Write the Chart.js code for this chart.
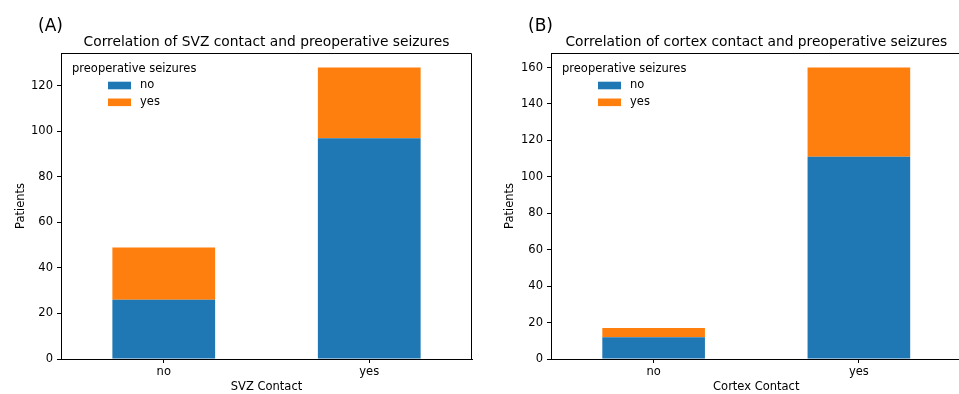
<!DOCTYPE html>
<html>
<head>
<meta charset="utf-8">
<script src="https://cdn.jsdelivr.net/npm/chart.js@4"></script>
<style>
  body { margin: 0; width: 959px; height: 394px; overflow: hidden; position: relative; background: #fff; font-family: "DejaVu Sans", sans-serif; }
  .box { position: absolute; top: 0; height: 394px; }
  .tag { position: absolute; top: 15px; font-size: 17px; line-height: 20px; color: #000; }
</style>
</head>
<body>
<div class="box" style="left:0; width:480px;"><canvas id="svzChart"></canvas></div>
<div class="box" style="left:480px; width:490px;"><canvas id="cortexChart"></canvas></div>
<div class="tag" style="left:38px;">(A)</div>
<div class="tag" style="left:528px;">(B)</div>
<script>
const contactLabels = ['no', 'yes'];
const seizureLabels = ['no', 'yes'];
const svzNoSeizure = [26, 97];
const svzSeizure = [23, 31];
const cortexNoSeizure = [12, 111];
const cortexSeizure = [5, 49];

const blue = '#1f77b4';
const orange = '#ff7f0e';
const font = "'DejaVu Sans', sans-serif";
const small = 11.5;

// title centred over the plot area, legend inside it (top left), top/right spines
const decorations = {
  id: 'decorations',
  afterDraw(chart, args, opts) {
    const ctx = chart.ctx;
    const a = chart.chartArea;
    ctx.save();
    ctx.fillStyle = '#000';
    ctx.textBaseline = 'middle';
    ctx.textAlign = 'center';
    ctx.font = '13.8px ' + font;
    ctx.fillText(opts.title, (a.left + a.right) / 2, a.top - 11);

    ctx.textAlign = 'left';
    ctx.font = small + 'px ' + font;
    ctx.fillText('preoperative seizures', a.left + 11, a.top + 16);
    chart.data.datasets.forEach((ds, i) => {
      const y = a.top + 32.5 + i * 16.8;
      ctx.fillStyle = ds.backgroundColor;
      ctx.fillRect(a.left + 47, y - 3.8, 23, 7.6);
      ctx.fillStyle = '#000';
      ctx.fillText(ds.label, a.left + 79, y);
    });

    ctx.strokeStyle = '#000';
    ctx.lineWidth = 1;
    ctx.beginPath();
    ctx.moveTo(a.left, a.top + 0.5);
    ctx.lineTo(a.right - 0.5, a.top + 0.5);
    ctx.lineTo(a.right - 0.5, a.bottom);
    ctx.stroke();
    ctx.restore();
  }
};

function makeChart(id, title, xTitle, noData, yesData, yMax, opts) {
  const ctx = document.getElementById(id).getContext('2d');
  return new Chart(ctx, {
    type: 'bar',
    data: {
      labels: contactLabels,
      datasets: [
        { label: seizureLabels[0], data: noData, backgroundColor: blue, borderWidth: 0 },
        { label: seizureLabels[1], data: yesData, backgroundColor: orange, borderWidth: 0 }
      ]
    },
    options: {
      responsive: true,
      maintainAspectRatio: false,
      animation: false,
      layout: { padding: { top: 53, right: opts.right, bottom: 0, left: 0 } },
      datasets: { bar: { barPercentage: 0.5, categoryPercentage: 1 } },
      plugins: {
        legend: { display: false },
        tooltip: { enabled: false },
        title: { display: false },
        decorations: { title: title }
      },
      scales: {
        x: {
          stacked: true,
          grid: { drawOnChartArea: false, offset: false, tickLength: 4, color: '#000' },
          border: { color: '#000', width: 1 },
          ticks: { color: '#000', font: { family: font, size: small }, padding: 2, maxRotation: 0 },
          title: { display: true, text: xTitle, color: '#000', font: { family: font, size: small }, padding: { top: 0, bottom: 0 } },
          afterFit(scale) { scale.height = 35; }
        },
        y: {
          stacked: true,
          min: 0,
          max: yMax,
          grid: { drawOnChartArea: false, tickLength: 4, color: '#000' },
          border: { color: '#000', width: 1 },
          ticks: { stepSize: 20, includeBounds: false, color: '#000', font: { family: font, size: small }, padding: 4 },
          title: { display: true, text: 'Patients', color: '#000', font: { family: font, size: small }, padding: { top: opts.yTitlePad, bottom: 0 } },
          afterFit(scale) { scale.width = opts.yWidth; }
        }
      }
    },
    plugins: [decorations]
  });
}

makeChart('svzChart', 'Correlation of SVZ contact and preoperative seizures', 'SVZ Contact',
  svzNoSeizure, svzSeizure, 134.4, { right: 8, yWidth: 61, yTitlePad: 14 });
makeChart('cortexChart', 'Correlation of cortex contact and preoperative seizures', 'Cortex Contact',
  cortexNoSeizure, cortexSeizure, 168, { right: 8.5, yWidth: 71, yTitlePad: 23 });
</script>
</body>
</html>
